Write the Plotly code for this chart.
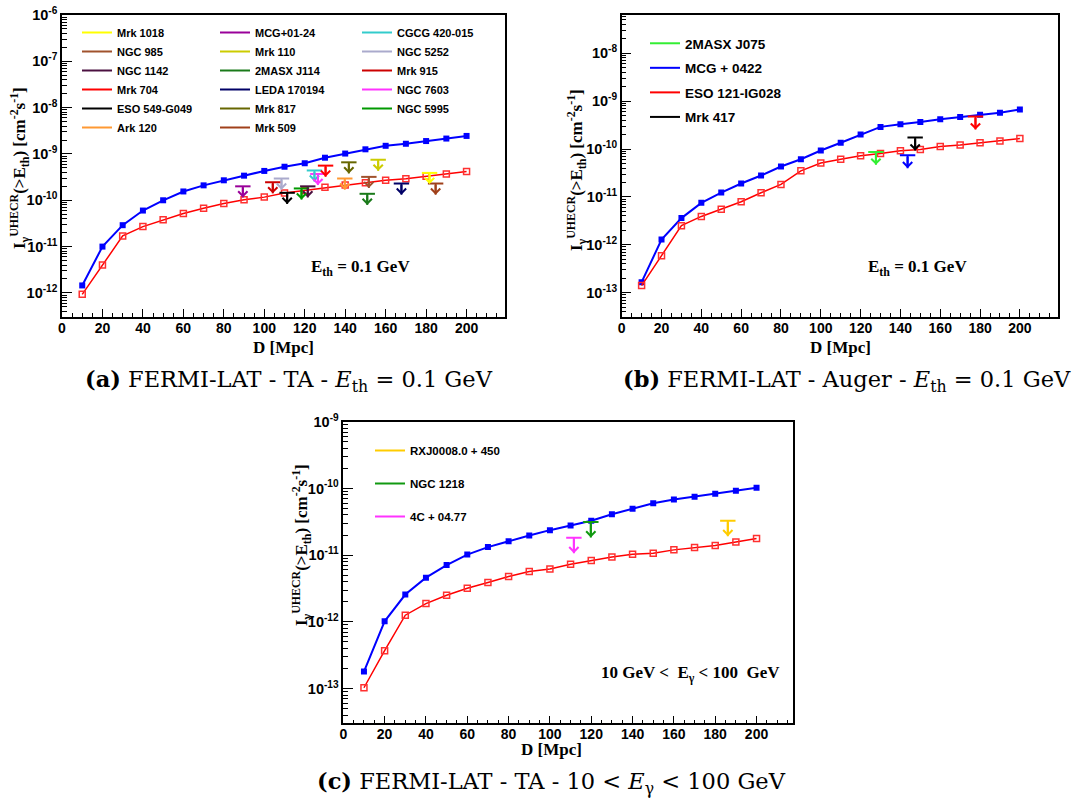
import math
import plotly.graph_objects as go

W, H = 1078, 798
OFF = 0  # page margin is removed below (post_script), so pixel offsets are zero

# ---------------- data ----------------
D = [10, 20, 30, 40, 50, 60, 70, 80, 90, 100, 110, 120, 130, 140, 150, 160, 170, 180, 190, 200]

# panel (a) FERMI-LAT - TA - Eth = 0.1 GeV
a_upper = [1.45e-12, 1.0e-11, 2.9e-11, 6.0e-11, 1.0e-10, 1.55e-10, 2.1e-10, 2.7e-10, 3.4e-10, 4.3e-10,
           5.3e-10, 6.3e-10, 8.3e-10, 1.02e-9, 1.26e-9, 1.5e-9, 1.66e-9, 1.9e-9, 2.15e-9, 2.45e-9]
a_lower = [9.3e-13, 4.0e-12, 1.7e-11, 2.7e-11, 3.8e-11, 5.2e-11, 6.7e-11, 8.5e-11, 1.03e-10, 1.17e-10,
           1.44e-10, 1.63e-10, 1.9e-10, 2.14e-10, 2.4e-10, 2.7e-10, 2.9e-10, 3.3e-10, 3.7e-10, 4.2e-10]
a_names = ["Mrk 1018", "NGC 985", "NGC 1142", "Mrk 704", "ESO 549-G049", "Ark 120",
           "MCG+01-24", "Mrk 110", "2MASX J114", "LEDA 170194", "Mrk 817", "Mrk 509",
           "CGCG 420-015", "NGC 5252", "Mrk 915", "NGC 7603", "NGC 5995"]
a_dist = [181.7, 151.7, 121.5, 130.3, 111.3, 139.8,
          89.4, 156.3, 150.9, 167.8, 141.8, 184.7,
          124.8, 108.5, 104.2, 126.5, 118.4]
a_limit = [3.9e-10, 3.2e-10, 2.0e-10, 5.6e-10, 1.45e-10, 2.95e-10,
           2.0e-10, 7.5e-10, 1.38e-10, 2.3e-10, 6.6e-10, 2.3e-10,
           4.4e-10, 2.95e-10, 2.45e-10, 3.7e-10, 1.8e-10]
a_colors = ["#ffff00", "#a0522d", "#4b1040", "#ff0000", "#000000", "#ff9933",
            "#990099", "#cccc00", "#1a7a1a", "#000066", "#666600", "#a0401a",
            "#33cccc", "#aaaacc", "#cc0000", "#ff33ff", "#009900"]
a_legend = ["legend"] * 6 + ["legend2"] * 6 + ["legend3"] * 5
a_exps = [-12, -11, -10, -9, -8, -7, -6]

# panel (b) FERMI-LAT - Auger - Eth = 0.1 GeV
b_upper = [1.65e-13, 1.28e-12, 3.6e-12, 7.5e-12, 1.23e-11, 1.9e-11, 2.8e-11, 4.3e-11, 6.1e-11, 9.3e-11,
           1.35e-10, 2.0e-10, 2.9e-10, 3.3e-10, 3.65e-10, 4.2e-10, 4.65e-10, 5.2e-10, 5.75e-10, 6.7e-10]
b_lower = [1.4e-13, 5.9e-13, 2.5e-12, 3.9e-12, 5.5e-12, 7.9e-12, 1.22e-11, 1.82e-11, 3.5e-11, 5.1e-11,
           6.1e-11, 7.2e-11, 8.1e-11, 9.2e-11, 9.8e-11, 1.13e-10, 1.22e-10, 1.35e-10, 1.47e-10, 1.66e-10]
b_names = ["2MASX J075", "MCG + 0422", "ESO 121-IG028", "Mrk 417"]
b_dist = [127.7, 143.6, 177.7, 147.4]
b_limit = [8.7e-11, 7.4e-11, 4.75e-10, 1.73e-10]
b_colors = ["#33ee33", "#0000ff", "#ff0000", "#000000"]
b_exps = [-13, -12, -11, -10, -9, -8]

# panel (c) FERMI-LAT - TA - 10 < E < 100 GeV
c_upper = [1.8e-13, 1.02e-12, 2.57e-12, 4.6e-12, 7.1e-12, 1.02e-11, 1.32e-11, 1.62e-11, 1.97e-11, 2.37e-11,
           2.79e-11, 3.27e-11, 4.1e-11, 4.95e-11, 6.0e-11, 6.8e-11, 7.5e-11, 8.3e-11, 9.2e-11, 1.02e-10]
c_lower = [1.03e-13, 3.7e-13, 1.26e-12, 1.88e-12, 2.5e-12, 3.2e-12, 3.9e-12, 4.8e-12, 5.7e-12, 6.2e-12,
           7.3e-12, 8.3e-12, 9.4e-12, 1.03e-11, 1.07e-11, 1.2e-11, 1.3e-11, 1.4e-11, 1.57e-11, 1.78e-11]
c_names = ["RXJ0008.0 + 450", "NGC 1218", "4C + 04.77"]
c_dist = [186.1, 119.8, 111.6]
c_limit = [3.27e-11, 3.13e-11, 1.82e-11]
c_colors = ["#ffcc00", "#119911", "#ff33ff"]
c_exps = [-13, -12, -11, -10, -9]

# ---------------- figure ----------------
SANS = "Liberation Sans"
SERIF = "Liberation Serif"
CAPSERIF = "DejaVu Serif"

fig = go.Figure()
annotations = []


def px_x(p):
    return (p - OFF) / W


def px_y(p):
    return 1 - (p - OFF) / H


def add_curves(xa, ya, upper, lower):
    fig.add_trace(go.Scatter(x=D, y=upper, mode="lines+markers", xaxis=xa, yaxis=ya, showlegend=False,
                             line=dict(color="#0000ff", width=2),
                             marker=dict(symbol="square", size=6, color="#0000ff")))
    fig.add_trace(go.Scatter(x=D, y=lower, mode="lines+markers", xaxis=xa, yaxis=ya, showlegend=False,
                             line=dict(color="#ff0000", width=1.5),
                             marker=dict(symbol="square-open", size=6, color="#ff3030",
                                         line=dict(width=1.5, color="#ff3030"))))


def add_limits(xa, ya, names, dist, limit, colors, legends, L, groups=False):
    for n, d, lim, c, lg in zip(names, dist, limit, colors, legends):
        tip = lim * 10 ** (-L)
        fig.add_trace(go.Scatter(x=[d, d], y=[lim, tip], mode="lines", xaxis=xa, yaxis=ya, name=n,
                                 legend=lg, legendgroup=(n if groups else None),
                                 line=dict(color=c, width=2)))
        fig.add_trace(go.Scatter(x=[d], y=[lim], mode="markers", xaxis=xa, yaxis=ya, showlegend=False,
                                 marker=dict(symbol="line-ew", size=11, line=dict(color=c, width=2))))
        annotations.append(dict(x=d, y=math.log10(tip), ax=d, ay=math.log10(lim), xref=xa, yref=ya,
                                axref=xa, ayref=ya, text="", showarrow=True, arrowhead=4,
                                arrowsize=0.9, arrowwidth=2, arrowcolor=c))


add_curves("x", "y", a_upper, a_lower)
add_limits("x", "y", a_names, a_dist, a_limit, a_colors, a_legend, 0.24)
add_curves("x2", "y2", b_upper, b_lower)
add_limits("x2", "y2", b_names, b_dist, b_limit, b_colors, ["legend4"] * 4, 0.27, groups=True)
add_curves("x3", "y3", c_upper, c_lower)
add_limits("x3", "y3", c_names, c_dist, c_limit, c_colors, ["legend5"] * 3, 0.23, groups=True)


def xaxis(left, right, anchor, rng):
    return dict(domain=[px_x(left), px_x(right)], anchor=anchor, range=rng, tickmode="linear", tick0=0,
                dtick=20, automargin=False, ticklabelstandoff=-3, ticklabeloverflow="allow",
                ticks="inside", ticklen=8, tickwidth=1, tickcolor="black",
                minor=dict(dtick=5, ticks="inside", ticklen=4, tickcolor="black"),
                showline=True, linecolor="black", linewidth=1.5, mirror=True,
                showgrid=False, zeroline=False,
                tickfont=dict(family=SANS, size=14, color="black", weight="bold"))


def yaxis(top, bottom, anchor, rng, exps):
    return dict(domain=[px_y(bottom), px_y(top)], anchor=anchor, type="log", range=rng,
                tickmode="array", tickvals=[10.0 ** e for e in exps],
                ticktext=["10<sup>%d</sup>" % e for e in exps],
                automargin=False, ticklabelstandoff=0, ticklabeloverflow="allow",
                ticks="inside", ticklen=10, tickwidth=1, tickcolor="black",
                minor=dict(dtick="D1", ticks="inside", ticklen=5, tickcolor="black"),
                showline=True, linecolor="black", linewidth=1.5, mirror=True,
                showgrid=False, zeroline=False,
                tickfont=dict(family=SANS, size=14.5, color="black", weight="bold"))


ytitle = "I<sub>γ</sub><sup>UHECR</sup>(&gt;E<sub>th</sub>) [cm<sup>-2</sup>s<sup>-1</sup>]"
title_font = dict(family=SERIF, size=17, color="black", weight="bold")


def note(xc, yc, text, font, angle=0):
    annotations.append(dict(x=px_x(xc), y=px_y(yc), xref="paper", yref="paper", text=text,
                            textangle=angle, showarrow=False, font=font,
                            xanchor="center", yanchor="middle"))


for (xc, yc) in [(19, 168), (577, 170), (301, 545)]:
    note(xc, yc, ytitle, title_font, -90)
for (xc, yc) in [(283, 347), (840, 347), (551, 749)]:
    note(xc, yc, "D [Mpc]", title_font)

note(360, 268, "E<sub>th</sub> = 0.1 GeV", title_font)
note(917, 268, "E<sub>th</sub> = 0.1 GeV", title_font)
note(690, 674, "10 GeV &lt;  E<sub>γ</sub> &lt; 100  GeV", title_font)

cap_font = dict(family=CAPSERIF, size=22.5, color="black")
note(289, 381, "<b>(a)</b> FERMI-LAT - TA - <i>E</i><sub>th</sub> = 0.1 GeV", cap_font)
note(847, 381, "<b>(b)</b> FERMI-LAT - Auger - <i>E</i><sub>th</sub> = 0.1 GeV", cap_font)
note(551, 783, "<b>(c)</b> FERMI-LAT - TA - 10 &lt; <i>E</i><sub>γ</sub> &lt; 100 GeV", cap_font)


def legend(x, y, size, gap=0):
    return dict(x=px_x(x), y=px_y(y), xanchor="left", yanchor="top", bgcolor="rgba(0,0,0,0)",
                borderwidth=0, tracegroupgap=gap,
                font=dict(family=SANS, size=size, color="black", weight="bold"))


fig.update_layout(
    width=W, height=H, margin=dict(l=0, r=0, t=0, b=0, autoexpand=False),
    paper_bgcolor="white", plot_bgcolor="white",
    xaxis=xaxis(62, 505, "y", [0, 219]),
    yaxis=yaxis(15, 317, "x", [-12.52, -6], a_exps),
    xaxis2=xaxis(621.7, 1057.7, "y2", [0, 219]),
    yaxis2=yaxis(15, 317, "x2", [-13.51, -7.2], b_exps),
    xaxis3=xaxis(343.3, 792.7, "y3", [0, 217.5]),
    yaxis3=yaxis(421.7, 723.3, "x3", [-13.52, -9], c_exps),
    legend=legend(77, 18, 11),
    legend2=legend(215, 18, 11),
    legend3=legend(357, 18, 11),
    legend4=legend(645, 28, 13.5, 4),
    legend5=legend(370, 436, 11.5, 14),
    annotations=annotations,
)

fig.write_html("out.html", config={"displayModeBar": False},
               post_script="document.body.style.margin='0px';")
